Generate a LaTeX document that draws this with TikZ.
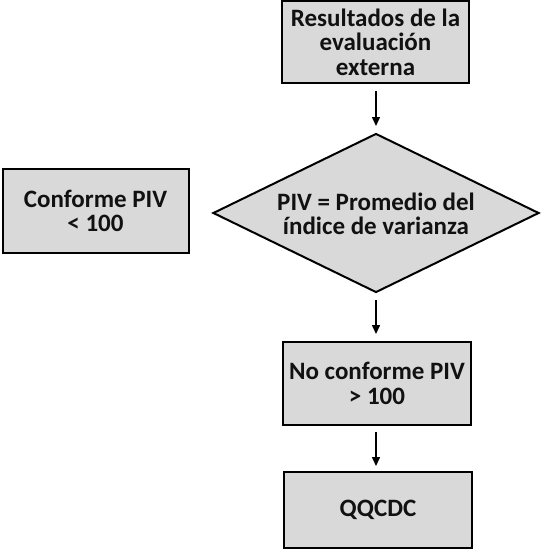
\documentclass[tikz,border=0pt]{standalone}
\usepackage{fontspec}
\setmainfont{Carlito}
\usetikzlibrary{shapes.geometric,arrows.meta}
\definecolor{boxgray}{HTML}{D9D9D9}
\definecolor{txtcol}{HTML}{111111}
\begin{document}
\begin{tikzpicture}[x=1pt,y=-1pt,
  txt/.style={font=\bfseries\fontsize{25}{24.5}\selectfont,align=center,text=txtcol},
  boxnode/.style={draw=black,line width=2pt,fill=boxgray,txt,inner sep=0pt},
  arr/.style={line width=1.5pt,-{Triangle[length=9pt,width=8pt]}}]
\useasboundingbox (0,0) rectangle (541,557);
\node[boxnode,minimum width=187pt,minimum height=82pt] (res) at (375.5,42) {Resultados de la\\evaluación\\externa};
\node[boxnode,shape=diamond,aspect=2.05,minimum width=326pt,minimum height=159pt] (piv) at (376,213) {};
\node[txt] (pivt) at (376,214) {PIV = Promedio del\\índice de varianza};
\node[boxnode,minimum width=186pt,minimum height=84pt] (conf) at (95.5,211) {Conforme PIV\\< 100};
\node[boxnode,minimum width=188pt,minimum height=83pt] (noc) at (377,383.5) {No conforme PIV\\> 100};
\node[boxnode,minimum width=188pt,minimum height=76pt] (qq) at (378,510) {QQCDC};
\coordinate (a1s) at (376,91);
\coordinate (a1e) at (376,126);
\draw[arr] (a1s) -- (a1e);
\coordinate (a2s) at (376,300);
\coordinate (a2e) at (376,334);
\draw[arr] (a2s) -- (a2e);
\coordinate (a3s) at (376,432);
\coordinate (a3e) at (376,466);
\draw[arr] (a3s) -- (a3e);
\end{tikzpicture}
\end{document}
